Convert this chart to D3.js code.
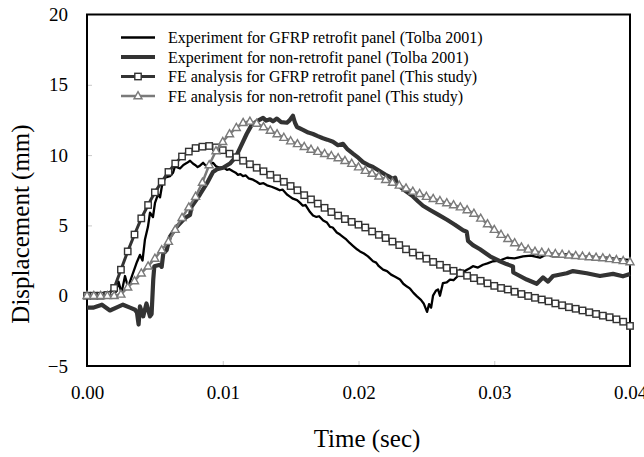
<!DOCTYPE html>
<html><head><meta charset="utf-8">
<script src="https://cdn.jsdelivr.net/npm/d3@7"></script>
<style>
html,body{margin:0;padding:0;background:#fff;}
svg{display:block;font-family:"Liberation Serif","Times New Roman",serif;}
</style></head>
<body><svg id="c" width="644" height="457"></svg>
<script>
// ---------- DATA ----------
const xTicks = [0, 0.01, 0.02, 0.03, 0.04];
const yTicks = [-5, 0, 5, 10, 15, 20];
const seriesNames = [
  "Experiment for GFRP retrofit panel (Tolba 2001)",
  "Experiment for non-retrofit panel (Tolba 2001)",
  "FE analysis for GFRP retrofit panel (This study)",
  "FE analysis for non-retrofit panel (This study)"
];
// FE analysis time steps (ms)
const feTimeMs = [0,0.5,1,1.5,2,2.5,3,3.5,4,4.5,5,5.5,6,6.5,7,7.5,8,8.5,9,9.5,10,10.5,11,11.5,12,12.5,13,13.5,14,14.5,15,15.5,16,16.5,17,17.5,18,18.5,19,19.5,20,20.5,21,21.5,22,22.5,23,23.5,24,24.5,25,25.5,26,26.5,27,27.5,28,28.5,29,29.5,30,30.5,31,31.5,32,32.5,33,33.5,34,34.5,35,35.5,36,36.5,37,37.5,38,38.5,39,39.5,40];
const feGfrp = [0,0,0,0.05,0.55,1.85,3.15,4.35,5.5,6.45,7.35,8.1,8.8,9.4,9.9,10.25,10.5,10.6,10.65,10.55,10.35,10.1,9.85,9.6,9.35,9.1,8.85,8.6,8.35,8.1,7.8,7.5,7.15,6.85,6.55,6.25,5.95,5.7,5.45,5.25,5.05,4.85,4.57,4.33,4.1,3.85,3.6,3.3,3.07,2.85,2.63,2.4,2.2,1.98,1.77,1.6,1.42,1.25,1.06,0.88,0.7,0.55,0.44,0.28,0.12,-0.02,-0.15,-0.27,-0.4,-0.55,-0.68,-0.82,-0.93,-1.05,-1.18,-1.3,-1.42,-1.53,-1.68,-1.85,-2.15];
const feNon = [0,0,0,0,0,0.1,0.6,1.05,1.6,2.1,2.65,3.25,3.85,4.7,5.55,6.3,7.05,8.05,9.3,10.3,10.95,11.5,11.95,12.3,12.4,12.25,12.0,11.75,11.5,11.25,11.0,10.8,10.6,10.4,10.25,10.1,9.95,9.8,9.6,9.4,9.15,8.9,8.7,8.5,8.25,8.05,7.85,7.65,7.42,7.25,7.05,6.9,6.75,6.6,6.45,6.3,6.1,5.85,5.5,5.1,4.7,4.35,4.05,3.75,3.45,3.3,3.15,3.08,3.03,2.98,2.93,2.88,2.85,2.8,2.76,2.72,2.68,2.62,2.55,2.48,2.4];
// Experiment, GFRP retrofit panel
const expGfrpTimeMs = [0,1.0,1.9,2.14,2.32,2.54,2.8,3.02,3.31,3.68,3.9,4.09,4.27,4.49,4.64,4.86,5.01,5.23,5.38,5.52,5.75,6.11,6.34,6.48,6.85,7.1,7.37,7.59,7.8,7.96,8.15,8.32,8.55,8.7,8.91,9.1,9.28,9.5,9.8,10.0,10.31,10.5,10.75,10.95,11.12,11.3,11.49,11.7,11.9,12.23,12.5,12.74,13.0,13.26,13.6,13.99,14.2,14.4,14.73,14.95,15.17,15.47,15.7,15.9,16.1,16.43,16.65,16.9,17.1,17.4,17.68,17.9,18.1,18.4,18.64,18.9,19.1,19.35,19.59,19.89,20.11,20.4,20.7,21.07,21.3,21.5,21.81,22.1,22.4,22.7,23.06,23.3,23.57,23.8,24.05,24.31,24.6,24.8,25.05,25.2,25.35,25.49,25.7,25.86,26.0,26.22,26.5,26.74,27.0,27.26,27.48,27.75,27.99,28.2,28.43,28.8,29.17,29.5,29.91,30.4,30.94,31.5,32.12,32.7,33.37,33.89,34.3,34.62,35.2,35.79,36.4,37.05,37.7,38.3,39.1,40.0];
const expGfrp = [0,0.05,0,0.3,1.0,0.2,1.4,0.6,1.4,2.4,2.9,2.5,4.0,4.9,5.9,5.6,6.6,7.2,7.0,7.8,8.4,8.5,8.75,9.2,9.05,9.3,9.45,9.6,9.4,9.3,9.15,9.25,9.45,9.3,9.2,9.35,9.45,9.2,9.1,9.15,8.95,9.0,8.85,8.75,8.6,8.65,8.5,8.55,8.35,8.25,8.1,7.95,8.0,7.85,7.75,7.6,7.5,7.55,7.2,7.05,6.9,6.8,6.6,6.4,6.45,5.95,5.7,5.6,5.65,5.35,5.2,4.9,4.85,4.5,4.35,4.15,4.0,3.75,3.55,3.3,3.15,3.0,2.8,2.45,2.35,2.1,1.85,1.75,1.5,1.35,1.15,0.85,0.65,0.5,0.2,-0.05,-0.3,-0.55,-1.15,-0.6,-0.85,0,0.35,0.45,0,0.9,0.95,1.15,1.1,1.35,1.85,1.7,1.85,1.95,2.1,2.0,2.2,2.3,2.45,2.5,2.7,2.65,2.8,2.85,2.7,2.95,2.8,2.8,2.95,2.9,2.75,2.8,2.72,2.7,2.6,2.55];
// Experiment, non-retrofit panel
const expNonTimeMs = [0,0.44,1.1,1.69,2.28,2.65,3.17,3.54,3.68,3.8,3.9,4.14,4.38,4.64,4.76,4.88,4.96,5.38,5.5,5.62,5.87,6.11,6.61,7.09,7.34,7.59,7.71,8.08,8.32,8.84,9.28,9.58,10.02,10.53,10.98,11.27,11.76,12.13,12.5,12.97,13.2,13.48,13.7,13.99,14.3,14.73,14.9,15.17,15.32,15.47,15.91,16.3,16.65,17.0,17.38,17.7,18.12,18.49,18.86,19.2,19.59,20.0,20.33,20.7,21.07,21.58,22.0,22.3,22.54,22.7,22.84,23.4,24.01,24.4,24.75,25.27,25.9,26.52,27.1,27.7,27.97,28.07,28.43,28.95,29.69,30.42,30.9,31.38,31.4,32.39,33.13,33.59,33.96,34.33,35.34,35.8,36.81,37.79,38.75,39.48,40.0];
const expNon = [-0.85,-0.85,-0.64,-1.05,-0.8,-0.64,-0.85,-1.0,-1.2,-2.05,-0.76,-1.47,-0.55,-1.47,-1.3,1.14,2.1,2.2,2.05,3.0,3.25,4.2,4.9,5.4,5.6,5.75,6.35,6.85,7.2,8.0,8.8,9.0,9.1,9.4,9.9,10.5,11.5,12.15,12.4,12.65,12.45,12.55,12.4,12.6,12.35,12.3,12.45,12.8,12.3,12.0,11.8,11.6,11.5,11.35,11.2,11.1,10.95,10.7,10.8,10.4,10.1,9.8,9.5,9.3,9.15,8.85,8.6,8.45,8.3,8.4,7.9,7.5,7.06,6.7,6.4,6.1,5.75,5.4,5.05,4.65,4.55,3.9,3.6,3.3,2.8,2.45,2.25,2.08,1.65,1.15,0.85,1.3,1.0,1.4,1.6,1.75,1.6,1.4,1.55,1.38,1.55];

// ---------- CHART ----------
const svg = d3.select("#c");
svg.append("rect").attr("width",644).attr("height",457).attr("fill","#fff");
const x = d3.scaleLinear().domain([0,0.04]).range([87,630]);
const y = d3.scaleLinear().domain([-5,20]).range([366,14.5]);

const toPts = (tms, vals) => tms.map((t,i)=>({t:t/1000, v:vals[i]}));
const line = d3.line().x(d=>x(d.t)).y(d=>y(d.v));

// axes
const xAxis = d3.axisBottom(x).tickValues(xTicks).tickFormat(d3.format(".2f")).tickSizeInner(-5).tickSizeOuter(0).tickPadding(20);
const gx = svg.append("g").attr("transform","translate(0,366)").call(xAxis);
const yAxis = d3.axisLeft(y).tickValues(yTicks).tickFormat(d3.format("d")).tickSizeInner(-5).tickSizeOuter(0).tickPadding(19);
const gy = svg.append("g").attr("transform","translate(87,0)").call(yAxis);
[gx,gy].forEach(g=>{
  g.select(".domain").remove();
  g.selectAll(".tick line").attr("stroke","#c8c8c8").attr("stroke-width",1);
  g.selectAll(".tick text").attr("fill","#000").style("font-size","19px").style("font-family","'Liberation Serif','Times New Roman',serif");
});
gx.selectAll(".tick").filter(d=>d===0||d===0.04).select("line").remove();
gy.selectAll(".tick").filter(d=>d===-5||d===20).select("line").remove();

// frame
svg.append("rect").attr("x",87).attr("y",14.5).attr("width",543).attr("height",351.5)
  .attr("fill","none").attr("stroke","#000").attr("stroke-width",2);

// series
svg.append("path").datum(toPts(expGfrpTimeMs, expGfrp)).attr("d",line)
  .attr("fill","none").attr("stroke","#000").attr("stroke-width",2.3).attr("stroke-linejoin","round");
svg.append("path").datum(toPts(expNonTimeMs, expNon)).attr("d",line)
  .attr("fill","none").attr("stroke","#333").attr("stroke-width",4.2).attr("stroke-linejoin","round");

const feG = toPts(feTimeMs, feGfrp);
svg.append("path").datum(feG).attr("d",line)
  .attr("fill","none").attr("stroke","#333").attr("stroke-width",3);
const sq = 6.4;
svg.append("g").selectAll("rect").data(feG).join("rect")
  .attr("x",d=>x(d.t)-sq/2).attr("y",d=>y(d.v)-sq/2).attr("width",sq).attr("height",sq)
  .attr("fill","#fff").attr("stroke","#333").attr("stroke-width",1.4);

const feN = toPts(feTimeMs, feNon);
const triPath = "M0,-4.3L4,2.8L-4,2.8Z";
svg.append("path").datum(feN).attr("d",line)
  .attr("fill","none").attr("stroke","#7a7a7a").attr("stroke-width",2.5);
svg.append("g").selectAll("path").data(feN).join("path")
  .attr("d",triPath).attr("transform",d=>`translate(${x(d.t)},${y(d.v)})`)
  .attr("fill","#fff").attr("stroke","#7a7a7a").attr("stroke-width",1.4);

// legend
const legStyles = [
  {stroke:"#000", w:2.3, m:null},
  {stroke:"#333", w:4.2, m:null},
  {stroke:"#333", w:3, m:"sq"},
  {stroke:"#7a7a7a", w:2.5, m:"tri"}
];
const leg = svg.append("g");
seriesNames.forEach((name,i)=>{
  const by = 43 + i*19.5;
  const ly = by - 5.5;
  const s = legStyles[i];
  leg.append("line").attr("x1",121).attr("x2",155).attr("y1",ly).attr("y2",ly)
    .attr("stroke",s.stroke).attr("stroke-width",s.w);
  if(s.m==="sq"){
    leg.append("rect").attr("x",138-sq/2).attr("y",ly-sq/2).attr("width",sq).attr("height",sq)
      .attr("fill","#fff").attr("stroke","#333").attr("stroke-width",1.4);
  } else if(s.m==="tri"){
    leg.append("path").attr("d",triPath).attr("transform",`translate(138,${ly})`)
      .attr("fill","#fff").attr("stroke","#7a7a7a").attr("stroke-width",1.4);
  }
  leg.append("text").attr("x",168).attr("y",by).text(name)
    .style("font-size","16px").attr("fill","#000");
});

// axis titles
svg.append("text").attr("x",367).attr("y",447).attr("text-anchor","middle")
  .style("font-size","25px").text("Time (sec)");
svg.append("text").attr("transform","translate(28.5,224) rotate(-90)").attr("text-anchor","middle")
  .style("font-size","25px").text("Displacement (mm)");
</script></body></html>
